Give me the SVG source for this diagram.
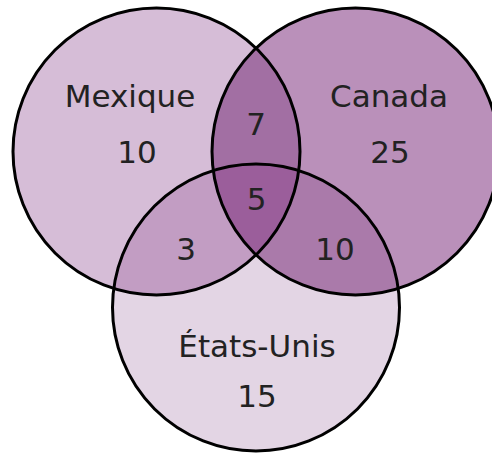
<svg xmlns="http://www.w3.org/2000/svg" width="492" height="455" viewBox="0 0 492 455">
<style>
.lbl{font-family:"DejaVu Sans","Liberation Sans",sans-serif;font-size:31px;fill:#222;text-anchor:middle}
.ring{fill:none;stroke:#000;stroke-width:3}
</style>
<defs>
<clipPath id="cM"><circle cx="156.5" cy="151.5" r="143.5"/></clipPath>
<clipPath id="cC"><circle cx="355.5" cy="151.5" r="143.5"/></clipPath>
<clipPath id="cMC" clip-path="url(#cM)"><circle cx="355.5" cy="151.5" r="143.5"/></clipPath>
</defs>
<g id="fills">
<circle cx="156.5" cy="151.5" r="143.5" fill="#d6bdd7"/>
<circle cx="355.5" cy="151.5" r="143.5" fill="#ba90ba"/>
<circle cx="256" cy="307.5" r="143.5" fill="#e3d5e4"/>
<circle cx="355.5" cy="151.5" r="143.5" fill="#a26fa3" clip-path="url(#cM)"/>
<circle cx="256" cy="307.5" r="143.5" fill="#c29dc3" clip-path="url(#cM)"/>
<circle cx="256" cy="307.5" r="143.5" fill="#aa7aaa" clip-path="url(#cC)"/>
<circle cx="256" cy="307.5" r="143.5" fill="#9b5e9b" clip-path="url(#cMC)"/>
</g>
<g id="mexique">
<circle class="ring" cx="156.5" cy="151.5" r="143.5"/>
<text class="lbl" x="130" y="107">Mexique</text>
<text class="lbl" x="137" y="163">10</text>
</g>
<g id="canada">
<circle class="ring" cx="355.5" cy="151.5" r="143.5"/>
<text class="lbl" x="389" y="107">Canada</text>
<text class="lbl" x="390" y="163">25</text>
</g>
<g id="etats-unis">
<circle class="ring" cx="256" cy="307.5" r="143.5"/>
<text class="lbl" x="257" y="357">États-Unis</text>
<text class="lbl" x="257" y="407">15</text>
</g>
<g id="intersections">
<text class="lbl" x="256" y="135">7</text>
<text class="lbl" x="256.5" y="210">5</text>
<text class="lbl" x="186" y="260">3</text>
<text class="lbl" x="335" y="260">10</text>
</g>
</svg>
